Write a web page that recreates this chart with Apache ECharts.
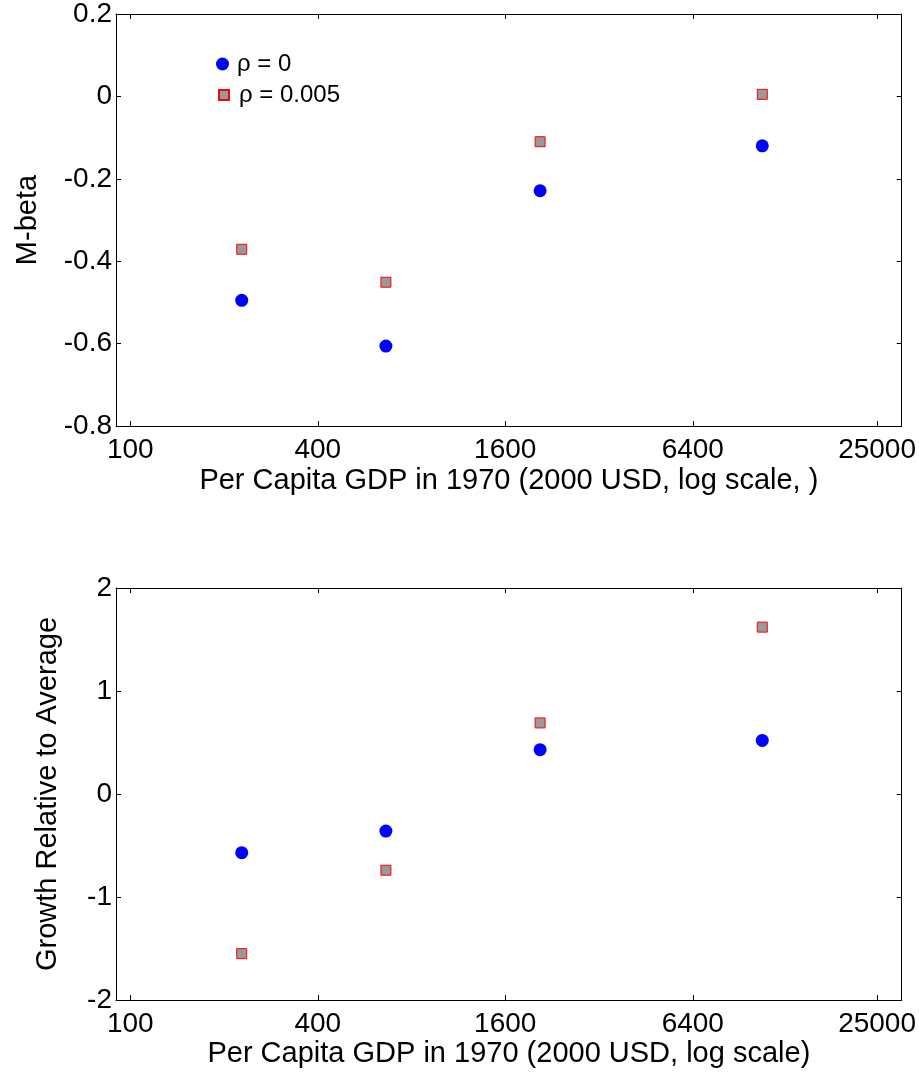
<!DOCTYPE html>
<html><head><meta charset="utf-8">
<script src="https://cdn.jsdelivr.net/npm/echarts@6/dist/echarts.min.js"></script>
<style>html,body{margin:0;padding:0;background:#fff}#c{width:919px;height:1076px}</style>
</head><body><div id="c"></div>
<script>
// Data
const gdp = [228, 662, 2070, 10700];
const mbetaRho0 = [-0.495, -0.606, -0.229, -0.120];
const mbetaRho005 = [-0.371, -0.451, -0.110, 0.005];
const growthRho0 = [-0.57, -0.36, 0.43, 0.52];
const growthRho005 = [-1.55, -0.74, 0.69, 1.62];
const xTicks = [100, 400, 1600, 6400, 25000];
const seriesNames = ['ρ = 0', 'ρ = 0.005'];
const xTitleTop = 'Per Capita GDP in 1970 (2000 USD, log scale, )';
const xTitleBottom = 'Per Capita GDP in 1970 (2000 USD, log scale)';
const yTitleTop = 'M-beta';
const yTitleBottom = 'Growth Relative to Average';

const FONT = 'Liberation Sans, Arial, sans-serif';
const FS = 28;
const FS_TITLE = 29;
const pairs = (xs, ys) => xs.map((x, i) => [x, ys[i]]);

function xAxes(gridIndex, title, gap) {
  const common = {
    type: 'log', logBase: 10, gridIndex, min: 90, max: 30000,
    splitLine: { show: false },
    axisLine: { show: true, onZero: false, lineStyle: { color: '#000', width: 1 } },
  };
  return [
    Object.assign({}, common, {
      position: 'bottom',
      name: title, nameLocation: 'middle', nameGap: gap,
      nameTextStyle: { fontFamily: FONT, fontSize: FS_TITLE, color: '#000' },
      axisTick: { show: true, inside: true, length: 5, customValues: xTicks, lineStyle: { color: '#000' } },
      axisLabel: { show: true, customValues: xTicks, margin: 10, fontFamily: FONT, fontSize: FS, color: '#000',
        formatter: v => String(Math.round(v)) },
    }),
    Object.assign({}, common, {
      position: 'top',
      axisTick: { show: true, inside: true, length: 5, customValues: xTicks, lineStyle: { color: '#000' } },
      axisLabel: { show: false },
    })
  ];
}
function yAxes(gridIndex, min, max, interval, title, gap) {
  const common = {
    type: 'value', gridIndex, min, max, interval,
    splitLine: { show: false },
    axisLine: { show: true, onZero: false, lineStyle: { color: '#000', width: 1 } },
    axisTick: { show: true, inside: true, length: 5, lineStyle: { color: '#000' } },
  };
  return [
    Object.assign({}, common, {
      position: 'left',
      name: title, nameLocation: 'middle', nameGap: gap,
      nameTextStyle: { fontFamily: FONT, fontSize: FS_TITLE, color: '#000' },
      axisLabel: { show: true, margin: 4, fontFamily: FONT, fontSize: FS, color: '#000' },
    }),
    Object.assign({}, common, {
      position: 'right',
      axisLabel: { show: false },
    })
  ];
}

const circleStyle = { color: '#0000ff', opacity: 1 };
const squareStyle = { color: '#999999', borderColor: '#ff0000', borderWidth: 1, opacity: 1 };

const option = {
  animation: false,
  backgroundColor: '#fff',
  textStyle: { fontFamily: FONT },
  grid: [
    { left: 116, right: 14, top: 13, height: 413 },
    { left: 116, right: 14, top: 588, height: 412 }
  ],
  xAxis: [].concat(xAxes(0, xTitleTop, 40), xAxes(1, xTitleBottom, 39)),
  yAxis: [].concat(yAxes(0, -0.8, 0.2, 0.2, yTitleTop, 74), yAxes(1, -2, 2, 1, yTitleBottom, 54)),
  legend: [
    { data: [seriesNames[0]], left: 211, top: 47, itemWidth: 13, itemHeight: 13, itemGap: 5,
      textStyle: { fontFamily: FONT, fontSize: 24, color: '#000', padding: [0, 0, 0, 3] } },
    { data: [seriesNames[1]], left: 213, top: 78, itemWidth: 10, itemHeight: 10, itemGap: 5,
      textStyle: { fontFamily: FONT, fontSize: 24, color: '#000', padding: [0, 0, 0, 5] } }
  ],
  series: [
    { name: seriesNames[0], type: 'scatter', xAxisIndex: 0, yAxisIndex: 0, symbol: 'circle', symbolSize: 13,
      itemStyle: circleStyle, data: pairs(gdp, mbetaRho0) },
    { name: seriesNames[1], type: 'scatter', xAxisIndex: 0, yAxisIndex: 0, symbol: 'rect', symbolSize: 10,
      itemStyle: squareStyle, data: pairs(gdp, mbetaRho005) },
    { name: seriesNames[0], type: 'scatter', xAxisIndex: 2, yAxisIndex: 2, symbol: 'circle', symbolSize: 13,
      itemStyle: circleStyle, data: pairs(gdp, growthRho0) },
    { name: seriesNames[1], type: 'scatter', xAxisIndex: 2, yAxisIndex: 2, symbol: 'rect', symbolSize: 10,
      itemStyle: squareStyle, data: pairs(gdp, growthRho005) }
  ]
};
const chart = echarts.init(document.getElementById('c'), null, { renderer: 'canvas' });
chart.setOption(option);
</script>
</body></html>
